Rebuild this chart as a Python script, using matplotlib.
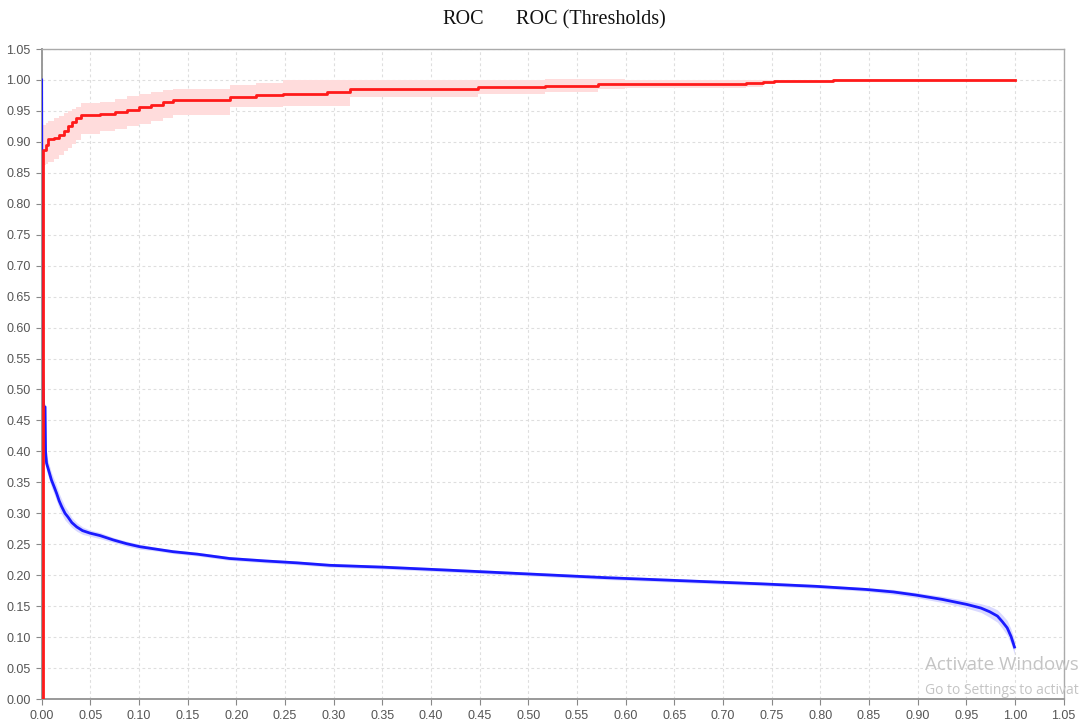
import numpy as np
import matplotlib
matplotlib.use("Agg")
import matplotlib.pyplot as plt
from matplotlib.ticker import MultipleLocator, FormatStrFormatter

# ROC curve (step function) with its confidence band
roc_fpr = [0.000, 0.001, 0.004, 0.007, 0.013, 0.018, 0.023, 0.027, 0.031, 0.035,
           0.040, 0.060, 0.075, 0.088, 0.100, 0.112, 0.125, 0.135, 0.193, 0.220,
           0.248, 0.293, 0.317, 0.448, 0.517, 0.572, 0.599, 0.724, 0.741, 0.752,
           0.813, 1.000]
roc_tpr = [0.000, 0.887, 0.895, 0.904, 0.906, 0.911, 0.918, 0.925, 0.932, 0.938,
           0.943, 0.945, 0.948, 0.952, 0.956, 0.960, 0.964, 0.967, 0.972, 0.976,
           0.978, 0.981, 0.985, 0.989, 0.991, 0.993, 0.994, 0.995, 0.997, 0.998,
           1.000, 1.000]
roc_lo = [0.000, 0.862, 0.865, 0.868, 0.872, 0.878, 0.885, 0.890, 0.896, 0.903,
          0.912, 0.918, 0.921, 0.925, 0.929, 0.933, 0.938, 0.943, 0.956, 0.957,
          0.958, 0.958, 0.973, 0.978, 0.981, 0.985, 0.987, 0.989, 0.994, 0.996,
          0.999, 0.999]
roc_hi = [0.000, 0.927, 0.930, 0.934, 0.938, 0.942, 0.946, 0.950, 0.953, 0.957,
          0.962, 0.965, 0.970, 0.974, 0.978, 0.981, 0.983, 0.985, 0.992, 0.995,
          1.000, 1.000, 1.000, 1.000, 1.001, 1.001, 1.000, 1.000, 1.000, 1.000,
          1.001, 1.001]

# ROC (Thresholds) curve with its band
thr_x = [0.000, 0.0005, 0.002, 0.0035, 0.004, 0.005, 0.008, 0.010, 0.013, 0.0154,
         0.018, 0.0205, 0.024, 0.027, 0.031, 0.036, 0.042, 0.0496, 0.060, 0.0735,
         0.087, 0.101, 0.118, 0.135, 0.160, 0.193, 0.230, 0.262, 0.296, 0.351,
         0.420, 0.500, 0.580, 0.676, 0.740, 0.796, 0.847, 0.875, 0.898, 0.925,
         0.950, 0.965, 0.974, 0.982, 0.987, 0.992, 0.996, 0.9995]
thr_y = [1.000, 0.560, 0.472, 0.472, 0.400, 0.381, 0.365, 0.354, 0.342, 0.332,
         0.320, 0.311, 0.300, 0.294, 0.285, 0.278, 0.272, 0.268, 0.264, 0.257,
         0.251, 0.246, 0.242, 0.238, 0.234, 0.227, 0.223, 0.220, 0.216, 0.213,
         0.208, 0.202, 0.196, 0.190, 0.186, 0.182, 0.177, 0.173, 0.168, 0.161,
         0.153, 0.147, 0.141, 0.134, 0.125, 0.115, 0.101, 0.084]
thr_err = [0.000, 0.000, 0.004, 0.006, 0.010, 0.012, 0.012, 0.012, 0.012, 0.012,
           0.012, 0.012, 0.011, 0.010, 0.008, 0.007, 0.006, 0.005, 0.005, 0.004,
           0.004, 0.004, 0.003, 0.003, 0.003, 0.003, 0.003, 0.003, 0.003, 0.003,
           0.003, 0.003, 0.003, 0.003, 0.003, 0.003, 0.003, 0.004, 0.004, 0.005,
           0.006, 0.007, 0.009, 0.010, 0.011, 0.012, 0.012, 0.012]

fig = plt.figure(figsize=(10.88, 7.24), dpi=100)
ax = fig.add_axes([0.0383, 0.0345, 0.9393, 0.8978])

ax.fill_between(roc_fpr, roc_lo, roc_hi, step="post", color="#ffdcdc", lw=0, zorder=2)
ax.plot(roc_fpr, roc_tpr, drawstyle="steps-post", color="#ff1a1a", lw=2.0, zorder=4)

ty = np.array(thr_y)
te = np.array(thr_err)
ax.fill_between(thr_x, ty - te, ty + te, color="#d9d9ff", lw=0, zorder=2)
ax.plot(thr_x, thr_y, color="#1a1aff", lw=2.0, zorder=3)

ax.set_xlim(0, 1.05)
ax.set_ylim(0, 1.05)
ax.xaxis.set_major_locator(MultipleLocator(0.05))
ax.yaxis.set_major_locator(MultipleLocator(0.05))
ax.xaxis.set_major_formatter(FormatStrFormatter("%.2f"))
ax.yaxis.set_major_formatter(FormatStrFormatter("%.2f"))
ax.grid(True, color="#dedede", lw=0.8, linestyle=(0, (2.5, 2.5)), zorder=0)
ax.set_axisbelow(True)

for side in ["top", "right"]:
    ax.spines[side].set_color("#aaaaaa")
    ax.spines[side].set_linewidth(1.0)
for side in ["left", "bottom"]:
    ax.spines[side].set_color("#999999")
    ax.spines[side].set_linewidth(1.4)
ax.tick_params(direction="out", length=4, width=0.8, color="#888888",
               labelcolor="#555555", labelsize=9, pad=4)
for lab in ax.get_xticklabels() + ax.get_yticklabels():
    lab.set_family("Liberation Sans")

# series labels along the top
fig.text(463 / 1088, 1 - 20 / 724, "ROC", family="Liberation Serif", fontsize=14.5,
         ha="center", va="center", color="#111111")
fig.text(591 / 1088, 1 - 20 / 724, "ROC (Thresholds)", family="Liberation Serif",
         fontsize=14.5, ha="center", va="center", color="#111111")

# desktop watermark in the lower right corner
fig.text(925 / 1088, 1 - 665 / 724, "Activate Windows", family="Open Sans",
         fontsize=13.5, color="#c4c4c4", ha="left", va="center", zorder=10)
fig.text(925 / 1088, 1 - 690 / 724, "Go to Settings to activat", family="Open Sans",
         fontsize=10, color="#c4c4c4", ha="left", va="center", zorder=10)

fig.savefig("out.png", dpi=100, facecolor="white")
